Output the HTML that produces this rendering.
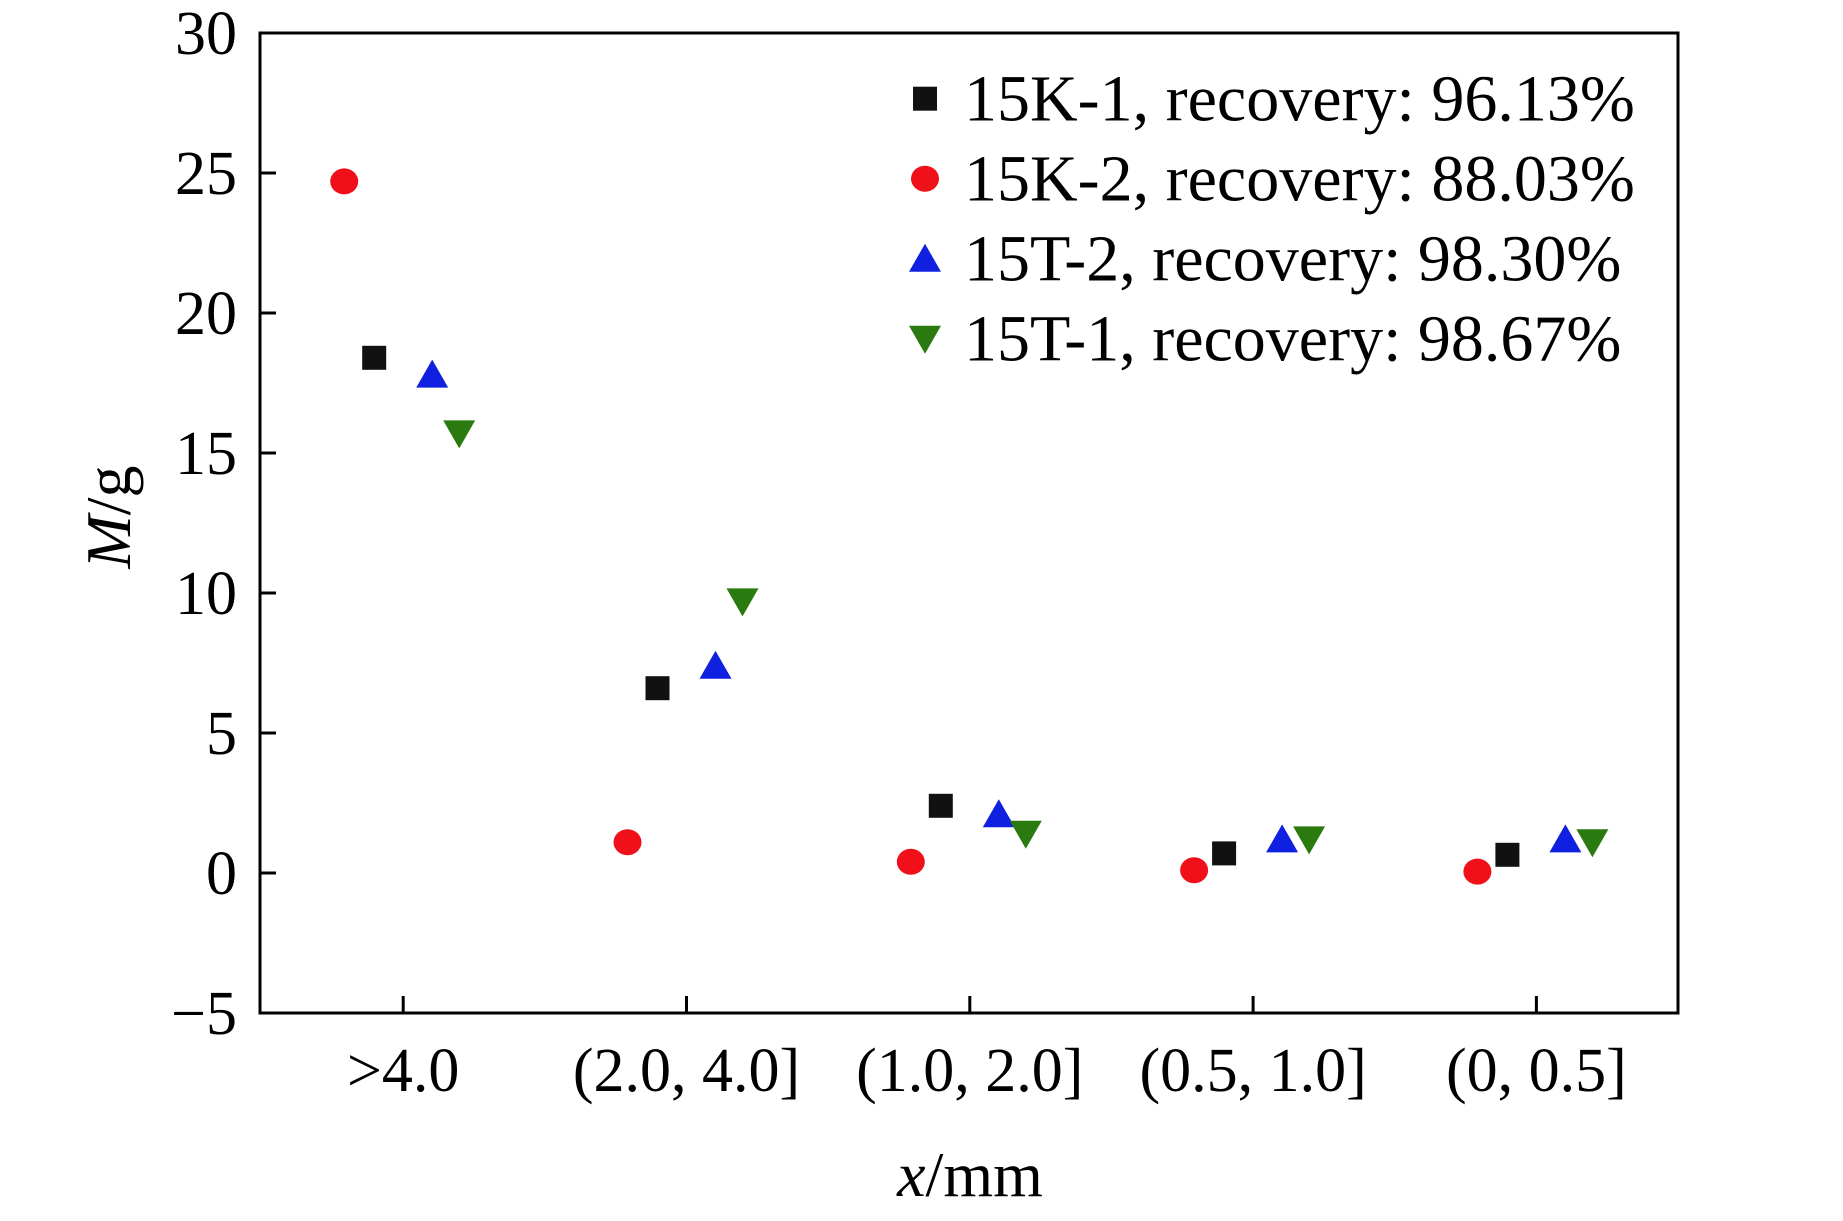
<!DOCTYPE html>
<html><head><meta charset="utf-8"><style>
html,body{margin:0;padding:0;background:#fff;}
svg text{font-family:"Liberation Serif",serif;fill:#000;}
</style></head><body>
<svg id="chart" width="1843" height="1216" xmlns="http://www.w3.org/2000/svg">
<rect x="260" y="33" width="1418" height="980" fill="none" stroke="#000" stroke-width="3"/>
<g id="yticks"></g>
<g id="xticks"></g>
<text x="130" y="517" font-size="64" text-anchor="middle" transform="rotate(-90 130 517)"><tspan font-style="italic">M</tspan>/g</text>
<text x="970" y="1196" font-size="64" text-anchor="middle"><tspan font-style="italic">x</tspan>/mm</text>
<g id="marks"></g>
<g id="legend"></g>
</svg>
<script>
const categories=[">4.0","(2.0, 4.0]","(1.0, 2.0]","(0.5, 1.0]","(0, 0.5]"];
const yTicks=[30,25,20,15,10,5,0,-5];
const s15K1=[18.4,6.6,2.4,0.7,0.65];
const s15K2=[24.7,1.1,0.4,0.1,0.05];
const s15T2=[17.8,7.4,2.1,1.2,1.2];
const s15T1=[15.7,9.7,1.4,1.2,1.1];
const legendLabels=["15K-1, recovery: 96.13%","15K-2, recovery: 88.03%","15T-2, recovery: 98.30%","15T-1, recovery: 98.67%"];
const NS="http://www.w3.org/2000/svg";
const plotLeft=260,plotRight=1678,plotTop=33,plotBottom=1013;
function yScale(v){return plotBottom-(v-(-5))/35*(plotBottom-plotTop);}
function xScale(i){return 403.2+i*283.3;}
function mk(tag,attrs,parent){const e=document.createElementNS(NS,tag);for(const k in attrs)e.setAttribute(k,attrs[k]);parent.appendChild(e);return e;}
const yt=document.getElementById('yticks');
yTicks.forEach(v=>{
 const l=mk('line',{x1:plotLeft,x2:plotLeft+16,y1:yScale(v),y2:yScale(v),stroke:'#000','stroke-width':3},yt);
 
 
 const t=mk('text',{x:237,y:yScale(v)+21,'font-size':62,'text-anchor':'end'},yt);
 t.textContent=v<0?'\u2212'+(-v):String(v);
 
 
});
const xt=document.getElementById('xticks');
categories.forEach((c,i)=>{
 const l=mk('line',{x1:xScale(i),x2:xScale(i),y1:plotBottom,y2:plotBottom-17,stroke:'#000','stroke-width':3},xt);
 
 
 const t=mk('text',{x:xScale(i),y:1091,'font-size':62,'text-anchor':'middle'},xt);
 t.textContent=c;
 
 
});
function marker(type,cx,cy,parent){
 let e;
 if(type==='sq') e=mk('rect',{x:cx-12,y:cy-12,width:24,height:24,fill:'#111'},parent);
 else if(type==='ci') e=mk('ellipse',{cx:cx,cy:cy,rx:14,ry:13,fill:'#f0101a'},parent);
 else if(type==='up') e=mk('polygon',{points:`${cx-16},${cy+13} ${cx+16},${cy+13} ${cx},${cy-15}`,fill:'#1020e0'},parent);
 else e=mk('polygon',{points:`${cx-16},${cy-13} ${cx+16},${cy-13} ${cx},${cy+15}`,fill:'#2a7a10'},parent);
 return e;
}
const series=[[s15K1,'sq',-29,'15k-1'],[s15K2,'ci',-59,'15k-2'],[s15T2,'up',29,'15t-2'],[s15T1,'dn',56,'15t-1']];
const mg=document.getElementById('marks');
series.forEach(([d,t,off,n])=>{
 d.forEach((v,i)=>{
  const e=marker(t,xScale(i)+off,yScale(v),mg);
  
  
 });
});
const lg=document.getElementById('legend');
const legTypes=['sq','ci','up','dn'];
legendLabels.forEach((lab,i)=>{
 const cy=98.7+i*80;
 const m=marker(legTypes[i],925,cy,lg);
 
 
 const t=mk('text',{x:964,y:cy+22,'font-size':66},lg);
 t.textContent=lab;
 
 
});
</script>
</body></html>
